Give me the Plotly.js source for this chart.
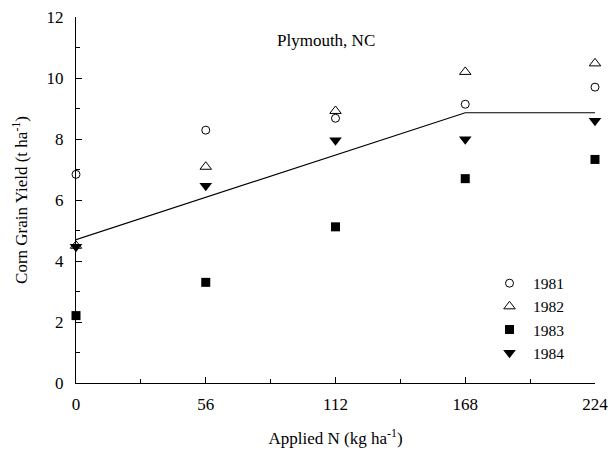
<!DOCTYPE html>
<html><head><meta charset="utf-8">
<script src="https://cdn.plot.ly/plotly-3.0.1.min.js"></script>
<style>body{margin:0}#c{width:613px;height:456px}</style>
</head><body><div id="c"></div>
<script>
const nRates = [0, 56, 112, 168, 224];
const y1981 = [6.84, 8.29, 8.68, 9.14, 9.70];
const y1982 = [4.50, 7.09, 8.92, 10.2, 10.48];
const y1983 = [2.21, 3.30, 5.12, 6.70, 7.33];
const y1984 = [4.47, 6.47, 7.96, 7.99, 8.60];
const fitX = [0, 168, 224];
const fitY = [4.70, 8.86, 8.86];

const F = 'Liberation Serif, Times New Roman, serif';
const traces = [
  {x: fitX, y: fitY, mode: 'lines', line: {color: 'black', width: 1.2}, showlegend: false, hoverinfo: 'skip'},
  {x: nRates, y: y1981, name: '1981', mode: 'markers', marker: {symbol: 'circle-open', size: 8, color: 'black', line: {width: 1}}},
  {x: nRates, y: y1982, name: '1982', mode: 'markers', marker: {symbol: 'triangle-up-open', size: 10, color: 'black', line: {width: 1}}},
  {x: nRates, y: y1983, name: '1983', mode: 'markers', marker: {symbol: 'square', size: 9, color: 'black'}},
  {x: nRates, y: y1984, name: '1984', mode: 'markers', marker: {symbol: 'triangle-down', size: 11, color: 'black'}}
];
traces.forEach(t => t.cliponaxis = false);

const layout = {
  width: 613, height: 456,
  margin: {l: 76, r: 18, t: 17, b: 73},
  paper_bgcolor: 'white', plot_bgcolor: 'white',
  font: {family: F, size: 16, color: 'black'},
  showlegend: true,
  legend: {x: 0.79, y: 0.318, xanchor: 'left', yanchor: 'top', itemwidth: 37, bgcolor: 'rgba(0,0,0,0)', font: {family: F, size: 15.5}, tracegroupgap: 0},
  xaxis: {
    range: [0, 224], tickvals: nRates, ticktext: nRates.map(String),
    ticks: 'inside', ticklen: 6, tickcolor: 'black', showline: true, linecolor: 'black', linewidth: 1,
    showgrid: false, zeroline: false, tickfont: {family: F, size: 17}, ticklabelstandoff: 6,
    minor: {tickvals: [28, 84, 140, 196], ticks: 'inside', ticklen: 4, tickcolor: 'black'},
    title: {text: 'Applied N (kg ha<sup>-1</sup>)', font: {family: F, size: 17}, standoff: 18}
  },
  yaxis: {
    range: [0, 12], tickvals: [0, 2, 4, 6, 8, 10, 12],
    ticks: 'inside', ticklen: 6, tickcolor: 'black', showline: true, linecolor: 'black', linewidth: 1,
    showgrid: false, zeroline: false, tickfont: {family: F, size: 17}, ticklabelstandoff: 8,
    minor: {tickvals: [1, 3, 5, 7, 9, 11], ticks: 'inside', ticklen: 4, tickcolor: 'black'},
    title: {text: 'Corn Grain Yield (t ha<sup>-1</sup>)', font: {family: F, size: 17}, standoff: 14}
  },
  annotations: [{text: 'Plymouth, NC', xref: 'paper', yref: 'paper', x: 0.481, y: 0.937, yanchor: 'middle', showarrow: false, font: {family: F, size: 17}}]
};
Plotly.newPlot('c', traces, layout, {displayModeBar: false, staticPlot: true});
</script></body></html>
